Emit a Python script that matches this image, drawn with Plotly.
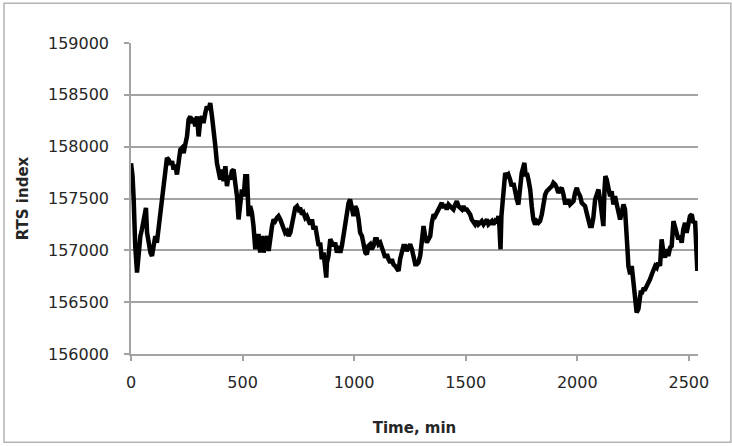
import plotly.graph_objects as go

# Time (minutes) and RTS index values
time_min = [
    0, 7, 12, 15, 19, 27, 34, 42, 49, 57, 64, 67, 72, 79, 87, 94, 101, 109, 116, 124,
    131, 139, 146, 154, 161, 169, 176, 184, 191, 198, 206, 213, 221, 228, 236, 243, 251, 258, 266, 273,
    281, 288, 296, 303, 311, 318, 325, 333, 340, 348, 355, 363, 367, 373, 378, 385, 393, 400, 408, 415,
    423, 430, 437, 445, 452, 460, 467, 475, 482, 490, 497, 505, 512, 520, 524, 527, 534, 542, 549, 557,
    564, 572, 579, 587, 594, 602, 609, 617, 624, 632, 639, 646, 654, 661, 669, 676, 684, 691, 699, 706,
    714, 721, 729, 736, 744, 751, 758, 766, 773, 781, 788, 796, 803, 811, 818, 826, 833, 841,
    848, 855, 863, 870, 875, 878, 885, 893, 900, 908, 915, 923, 930, 938, 945, 952, 960, 967, 975, 982,
    990, 997, 1005, 1012, 1020, 1027, 1035, 1042, 1050, 1057, 1064, 1072, 1079, 1087, 1094, 1102, 1109, 1117, 1124, 1132,
    1139, 1147, 1154, 1162, 1169, 1176, 1184, 1191, 1199, 1206, 1214, 1221, 1229, 1236, 1244, 1251, 1259, 1266, 1274, 1281,
    1288, 1296, 1303, 1311, 1318, 1326, 1333, 1341, 1348, 1356, 1363, 1371, 1378, 1386, 1393, 1400, 1408, 1415, 1423, 1430,
    1438, 1445, 1453, 1460, 1468, 1475, 1483, 1490, 1497, 1505, 1512, 1520, 1527, 1535, 1542, 1550, 1557, 1565, 1572, 1580,
    1587, 1595, 1602, 1610, 1617, 1624, 1632, 1639, 1647, 1651, 1656, 1660, 1665, 1669, 1677, 1684,
    1691, 1699, 1706, 1714, 1721, 1729, 1736, 1744, 1751, 1759, 1763, 1769, 1774, 1781, 1789, 1796, 1803, 1811, 1818, 1826,
    1833, 1841, 1848, 1856, 1863, 1871, 1878, 1886, 1893, 1901, 1908, 1915, 1923, 1930, 1938, 1945, 1953, 1960, 1968, 1975,
    1983, 1990, 1998, 2005, 2013, 2020, 2027, 2035, 2042, 2050, 2057, 2065, 2072, 2080, 2087, 2095, 2102, 2110, 2117, 2122,
    2126, 2132, 2139, 2147, 2154, 2162, 2169, 2177, 2184, 2192, 2199, 2207, 2214, 2219, 2225, 2229, 2237, 2244, 2248, 2254,
    2260, 2266, 2274, 2278, 2284, 2290, 2296, 2304, 2311, 2319, 2326, 2334, 2341, 2349, 2356, 2363, 2371, 2378, 2386, 2393,
    2401, 2408, 2416, 2423, 2431, 2438, 2446, 2453, 2460, 2468, 2475, 2483, 2490, 2498, 2505, 2513, 2520, 2528, 2532, 2538,
]

rts_index = [
    157840, 157715, 157490, 157266, 157042, 156785, 157010, 157138, 157202, 157330, 157394, 157410, 157170, 157042, 156978, 156946, 157042, 157138, 157074, 157234,
    157330, 157490, 157619, 157747, 157891, 157875, 157827, 157859, 157779, 157827, 157731, 157843, 157971, 157987, 157939, 158019, 158099, 158260, 158292, 158228,
    158276, 158195, 158292, 158099, 158260, 158292, 158228, 158324, 158388, 158356, 158420, 158292, 158228, 158131, 158003, 157843, 157715, 157683, 157779, 157667,
    157811, 157619, 157715, 157683, 157763, 157779, 157651, 157522, 157298, 157490, 157587, 157522, 157715, 157715, 157490, 157330, 157426, 157362, 157234, 157010,
    157138, 157138, 156978, 157138, 156978, 157106, 157138, 156994, 157138, 157234, 157298, 157282, 157314, 157330, 157298, 157250, 157202, 157170, 157186, 157138,
    157170, 157234, 157346, 157410, 157426, 157394, 157410, 157346, 157362, 157314, 157330, 157282, 157250, 157298, 157202, 157234, 157106, 157042,
    157074, 156914, 156978, 156753, 156737, 156881, 156946, 157106, 157074, 157042, 157074, 156978, 157042, 156978, 157042, 157138, 157266, 157362, 157458, 157490,
    157394, 157330, 157426, 157394, 157298, 157170, 157138, 157042, 156978, 156962, 157042, 157058, 157010, 157042, 157106, 157106, 157058, 157074, 157010, 156978,
    156930, 156962, 156914, 156882, 156914, 156865, 156849, 156817, 156801, 156914, 157010, 157042, 157042, 156994, 157026, 157058, 157010, 156914, 156865, 156865,
    156881, 156946, 157074, 157234, 157138, 157074, 157106, 157138, 157266, 157346, 157330, 157362, 157394, 157442, 157458, 157410, 157442, 157394, 157442, 157426,
    157410, 157394, 157442, 157474, 157426, 157410, 157394, 157426, 157394, 157394, 157378, 157346, 157298, 157266, 157250, 157282, 157250, 157266, 157282, 157250,
    157266, 157298, 157250, 157266, 157282, 157250, 157282, 157266, 157330, 157234, 157010, 157330, 157490, 157619, 157747, 157715,
    157731, 157683, 157619, 157651, 157554, 157490, 157442, 157619, 157747, 157811, 157843, 157715, 157747, 157683, 157587, 157426, 157298, 157250, 157282, 157266,
    157282, 157346, 157442, 157538, 157570, 157587, 157603, 157619, 157651, 157635, 157603, 157554, 157587, 157603, 157538, 157458, 157458, 157490, 157442, 157458,
    157474, 157554, 157603, 157554, 157522, 157458, 157442, 157426, 157362, 157282, 157234, 157234, 157314, 157490, 157554, 157587, 157490, 157362, 157234, 157587,
    157715, 157683, 157619, 157522, 157570, 157442, 157522, 157458, 157394, 157298, 157362, 157442, 157394, 157266, 157010, 156849, 156769, 156849, 156753, 156625,
    156465, 156401, 156433, 156529, 156593, 156593, 156625, 156625, 156657, 156673, 156721, 156769, 156817, 156849, 156833, 156881, 156849, 157106, 156978, 156930,
    157010, 156946, 157026, 157042, 157282, 157234, 157170, 157106, 157138, 157074, 157202, 157266, 157170, 157298, 157330, 157346, 157266, 157282, 157042, 156801,
]

y_ticks = [156000, 156500, 157000, 157500, 158000, 158500, 159000]
x_ticks = [0, 500, 1000, 1500, 2000, 2500]

x_title = "Time, min"
y_title = "RTS index"

FONT = "DejaVu Sans"
TXT = "#262626"
GRID = "#a3a3a3"

fig = go.Figure()
fig.add_trace(go.Scatter(
    x=time_min, y=rts_index, mode="lines",
    line=dict(color="black", width=4.5),
    showlegend=False, hoverinfo="skip",
))

fig.update_layout(
    width=732, height=446,
    margin=dict(l=131, r=33.5, t=43, b=91.5, autoexpand=False),
    paper_bgcolor="white", plot_bgcolor="white",
    font=dict(family=FONT, size=16, color=TXT),
    shapes=[dict(
        type="rect", xref="paper", yref="paper",
        x0=-0.224, x1=1.058, y0=-0.284, y1=1.128,
        line=dict(color="#b4b4b4", width=1.5), fillcolor="rgba(0,0,0,0)", layer="below",
    )],
)

fig.update_xaxes(
    range=[0, 2541], tickvals=x_ticks, ticktext=[str(v) for v in x_ticks],
    showgrid=False, zeroline=False,
    showline=True, linecolor=GRID, linewidth=1.5,
    ticks="outside", ticklen=5, tickwidth=1.5, tickcolor=GRID,
    tickfont=dict(family=FONT, size=16, color=TXT),
    ticklabelstandoff=8,
    title=dict(text=x_title, font=dict(family=FONT, size=15, color=TXT, weight="bold"), standoff=32),
)
fig.update_yaxes(
    range=[156000, 159000], tickvals=y_ticks, ticktext=[str(v) for v in y_ticks],
    showgrid=True, gridcolor=GRID, gridwidth=1.5,
    zeroline=False,
    showline=True, linecolor=GRID, linewidth=1.5,
    ticks="outside", ticklen=5, tickwidth=1.5, tickcolor=GRID,
    tickfont=dict(family=FONT, size=16, color=TXT),
    ticklabelstandoff=12,
    title=dict(text=y_title, font=dict(family=FONT, size=15, color=TXT, weight="bold"), standoff=16),
)

fig.write_html("out.html")
